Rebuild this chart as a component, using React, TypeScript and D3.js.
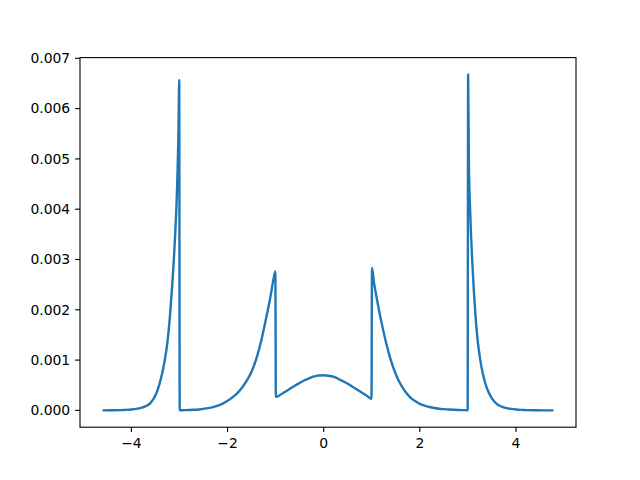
import React from "react";
import * as d3 from "d3";

// x positions and density values (y in units of 1e-3)
const xs: number[] = [
  -4.6, -4.4, -4.2, -4.1, -4.0, -3.9, -3.8, -3.7, -3.6, -3.5, -3.45, -3.4, -3.35, -3.3, -3.25, -3.2, -3.15, -3.1, -3.05, -3.02, -3.005,
  -2.995, -2.9, -2.8, -2.7, -2.6, -2.5, -2.4, -2.3, -2.2, -2.1, -2.0, -1.9, -1.8, -1.7, -1.6, -1.5, -1.4, -1.3, -1.2, -1.1, -1.05, -1.005,
  -0.995, -0.9, -0.8, -0.7, -0.6, -0.5, -0.4, -0.3, -0.2, -0.1, 0.0, 0.1, 0.2, 0.3, 0.4, 0.5, 0.6, 0.7, 0.8, 0.9, 0.995,
  1.005, 1.05, 1.1, 1.2, 1.3, 1.4, 1.5, 1.6, 1.7, 1.8, 1.9, 2.0, 2.1, 2.2, 2.3, 2.4, 2.5, 2.6, 2.7, 2.8, 2.9, 2.995,
  3.005, 3.02, 3.05, 3.1, 3.15, 3.2, 3.25, 3.3, 3.35, 3.4, 3.5, 3.6, 3.7, 3.8, 3.9, 4.0, 4.1, 4.2, 4.4, 4.6, 4.78,
];
const ysMilli: number[] = [
  0.0, 0.002, 0.006, 0.01, 0.018, 0.03, 0.05, 0.085, 0.15, 0.3, 0.42, 0.58, 0.78, 1.03, 1.36, 1.85, 2.5, 3.3, 4.4, 5.6, 6.57,
  0.002, 0.005, 0.008, 0.012, 0.018, 0.03, 0.045, 0.065, 0.095, 0.135, 0.19, 0.26, 0.34, 0.45, 0.59, 0.77, 1.03, 1.38, 1.82, 2.3, 2.58, 2.76,
  0.27, 0.31, 0.37, 0.43, 0.49, 0.545, 0.6, 0.64, 0.675, 0.695, 0.7, 0.69, 0.67, 0.63, 0.58, 0.53, 0.47, 0.41, 0.35, 0.29, 0.23,
  2.83, 2.52, 2.25, 1.76, 1.34, 0.99, 0.72, 0.52, 0.37, 0.26, 0.185, 0.13, 0.095, 0.068, 0.048, 0.034, 0.025, 0.018, 0.013, 0.009, 0.006, 0.004,
  6.68, 5.0, 3.9, 2.8, 2.0, 1.42, 1.05, 0.78, 0.58, 0.43, 0.24, 0.13, 0.075, 0.045, 0.03, 0.018, 0.01, 0.006, 0.002, 0.0, 0.0,
];
const xTicks: number[] = [-4, -2, 0, 2, 4];
const yTicks: number[] = [0, 0.001, 0.002, 0.003, 0.004, 0.005, 0.006, 0.007];

const W = 640;
const H = 480;
const L = 80, R = 576, T = 57.6, B = 427.2;
const FONT = "DejaVu Sans, sans-serif";

export default function App() {
  const data = xs.map((x, i) => ({ x, y: ysMilli[i] / 1000 }));
  const xMin = d3.min(xs)!, xMax = d3.max(xs)!;
  const yMin = 0, yMax = d3.max(data, (d) => d.y)!;
  const xm = (xMax - xMin) * 0.05;
  const ym = (yMax - yMin) * 0.05;
  const x = d3.scaleLinear().domain([xMin - xm, xMax + xm]).range([L, R]);
  const y = d3.scaleLinear().domain([yMin - ym, yMax + ym]).range([B, T]);
  const line = d3
    .line<{ x: number; y: number }>()
    .x((d) => x(d.x))
    .y((d) => y(d.y))
    .curve(d3.curveMonotoneX);
  const fmtX = (v: number) => (v < 0 ? "\u2212" + Math.abs(v) : String(v));
  return (
    <svg
      width={W}
      height={H}
      style={{ position: "absolute", left: 0, top: 0, background: "#fff" }}
    >
      <rect x={0} y={0} width={W} height={H} fill="#fff" />
      <path d={line(data) || ""} fill="none" stroke="#1f77b4" strokeWidth={2.4} strokeLinejoin="round" />
      <rect x={L} y={T} width={R - L} height={B - T} fill="none" stroke="#000" strokeWidth={1.1} />
      {xTicks.map((t) => (
        <g key={"x" + t}>
          <line x1={x(t)} x2={x(t)} y1={B} y2={B + 4.9} stroke="#000" strokeWidth={1.1} />
          <text x={x(t)} y={B + 4.9 + 4.9 + 11} textAnchor="middle" fontFamily={FONT} fontSize={13.9} fill="#000">
            {fmtX(t)}
          </text>
        </g>
      ))}
      {yTicks.map((t) => (
        <g key={"y" + t}>
          <line x1={L - 4.9} x2={L} y1={y(t)} y2={y(t)} stroke="#000" strokeWidth={1.1} />
          <text x={L - 4.9 - 4.9} y={y(t)} dy="0.35em" textAnchor="end" fontFamily={FONT} fontSize={13.9} fill="#000">
            {t.toFixed(3)}
          </text>
        </g>
      ))}
    </svg>
  );
}
